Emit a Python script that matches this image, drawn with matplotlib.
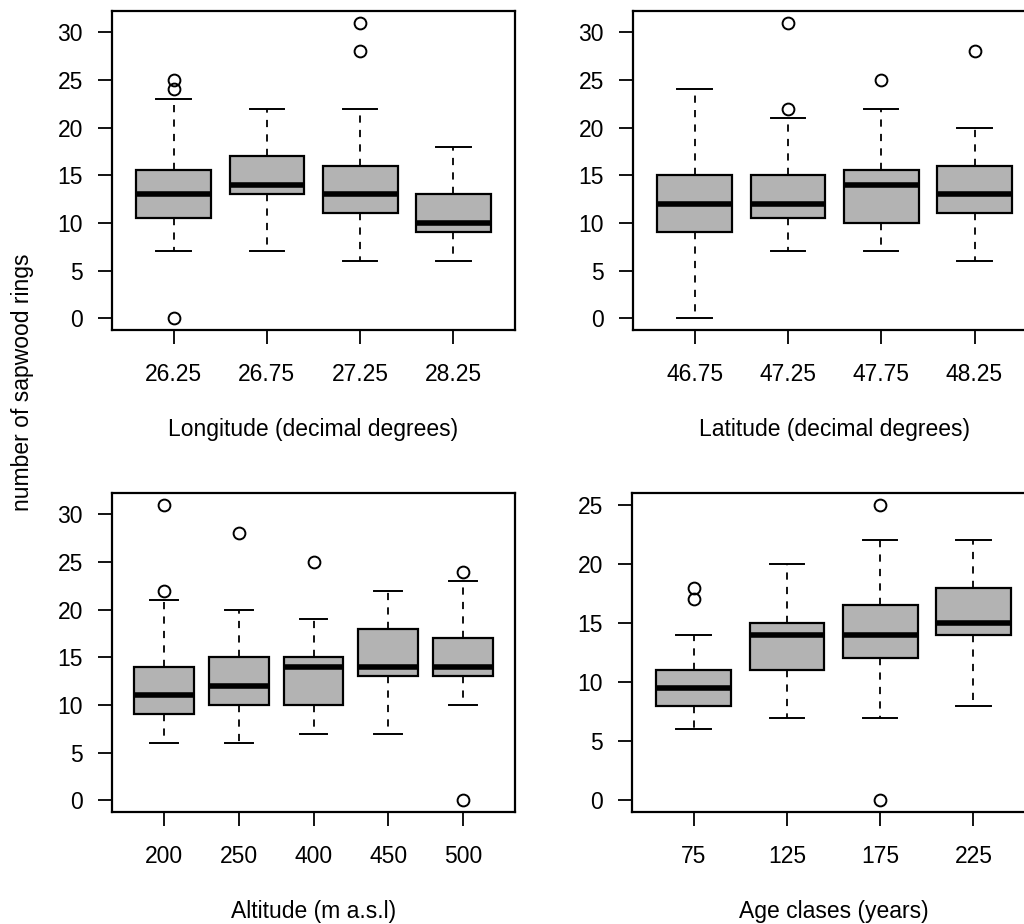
import matplotlib
matplotlib.use("Agg")
import matplotlib.pyplot as plt

plt.rcParams["font.family"] = ["Liberation Sans", "DejaVu Sans"]
plt.rcParams["font.size"] = 16.5

# box stats: (low whisker, q1, median, q3, high whisker, outliers)
lon_labels = ["26.25", "26.75", "27.25", "28.25"]
lon_stats = [(7, 10.5, 13, 15.5, 23, [24, 25, 0]),
             (7, 13, 14, 17, 22, []),
             (6, 11, 13, 16, 22, [28, 31]),
             (6, 9, 10, 13, 18, [])]

lat_labels = ["46.75", "47.25", "47.75", "48.25"]
lat_stats = [(0, 9, 12, 15, 24, []),
             (7, 10.5, 12, 15, 21, [22, 31]),
             (7, 10, 14, 15.5, 22, [25]),
             (6, 11, 13, 16, 20, [28])]

alt_labels = ["200", "250", "400", "450", "500"]
alt_stats = [(6, 9, 11, 14, 21, [22, 31]),
             (6, 10, 12, 15, 20, [28]),
             (7, 10, 14, 15, 19, [25]),
             (7, 13, 14, 18, 22, []),
             (10, 13, 14, 17, 23, [24, 0])]

age_labels = ["75", "125", "175", "225"]
age_stats = [(6, 8, 9.5, 11, 14, [17, 18]),
             (7, 11, 14, 15, 20, []),
             (7, 12, 14, 16.5, 22, [25, 0]),
             (8, 14, 15, 18, 22, [])]


def r_boxplot(ax, stats, labels, xlabel, ylim):
    bxp_stats = []
    for lo, q1, med, q3, hi, fl in stats:
        bxp_stats.append({"whislo": lo, "q1": q1, "med": med, "q3": q3,
                          "whishi": hi, "fliers": fl})
    n = len(stats)
    ax.bxp(bxp_stats, positions=range(1, n + 1), widths=0.8,
           patch_artist=True, showfliers=True,
           boxprops=dict(facecolor="#b3b3b3", edgecolor="black", linewidth=1.6),
           medianprops=dict(color="black", linewidth=4.0, solid_capstyle="butt"),
           whiskerprops=dict(color="black", linewidth=1.3, linestyle=(0, (4, 4))),
           capprops=dict(color="black", linewidth=1.4),
           capwidths=0.37,
           flierprops=dict(marker="o", markerfacecolor="none",
                           markeredgecolor="black", markersize=8.5,
                           markeredgewidth=1.4))
    ext = n * 0.04
    ax.set_xlim(0.5 - ext, n + 0.5 + ext)
    ax.set_ylim(*ylim)
    ax.set_xticks(range(1, n + 1))
    ax.set_xticklabels(labels)
    ax.set_yticks(range(0, int(ylim[1]) + 1, 5))
    ax.tick_params(direction="out", length=10, width=1.3, labelsize=16.5, pad=11)
    ax.tick_params(axis="x", pad=14)
    for s in ax.spines.values():
        s.set_linewidth(1.6)
    ax.set_xlabel(xlabel, fontsize=16.5, va="center")
    ax.xaxis.set_label_coords(0.5, -0.313)


fig = plt.figure(figsize=(10.24, 9.24), dpi=100)
ax1 = fig.add_axes([0.1094, 0.6429, 0.3936, 0.3452])
ax2 = fig.add_axes([0.6182, 0.6429, 0.3936, 0.3452])
ax3 = fig.add_axes([0.1094, 0.1212, 0.3936, 0.3452])
ax4 = fig.add_axes([0.6172, 0.1212, 0.3936, 0.3452])

r_boxplot(ax1, lon_stats, lon_labels, "Longitude (decimal degrees)", (-1.24, 32.24))
r_boxplot(ax2, lat_stats, lat_labels, "Latitude (decimal degrees)", (-1.24, 32.24))
r_boxplot(ax3, alt_stats, alt_labels, "Altitude (m a.s.l)", (-1.24, 32.24))
r_boxplot(ax4, age_stats, age_labels, "Age clases (years)", (-1.0, 26.0))

fig.text(23 / 1024, 1 - 382 / 924, "number of sapwood rings", rotation=90,
         ha="center", va="center", fontsize=16.5)

fig.savefig("out.png", dpi=100)
